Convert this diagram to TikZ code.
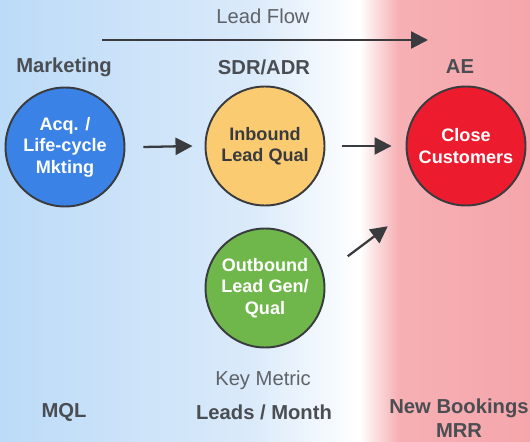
\documentclass[tikz,border=0pt]{standalone}
\usepackage{fontspec}
\setmainfont{Liberation Sans}
\usepackage{tikz}
\usetikzlibrary{arrows.meta,positioning}
\definecolor{ink}     {HTML}{3A3B3E}
\definecolor{txtgray} {HTML}{4A4D52}
\definecolor{capgray} {HTML}{5F6266}
\definecolor{bgblue}  {HTML}{BCDBF8}
\definecolor{bgblueb} {HTML}{DAEAFA}
\definecolor{bgpink}  {HTML}{F6B0B4}
\definecolor{bgpinkb} {HTML}{F5A6AB}
\definecolor{mktblue} {HTML}{3A82E6}
\definecolor{sdryellow}{HTML}{FBCB72}
\definecolor{aered}   {HTML}{EC1C2E}
\definecolor{outgreen}{HTML}{6FB74A}
\tikzset{
  stagecirc/.style ={circle, draw=ink, line width=1.1pt,
                     minimum size=2.38cm, inner sep=0pt,
                     align=center, font=\fontsize{10.3}{12.2}\selectfont\bfseries},
  heading/.style   ={text=txtgray, align=center,
                     font=\fontsize{11.5}{13.5}\selectfont\bfseries},
  caption/.style   ={text=capgray, font=\fontsize{11.5}{13.5}\selectfont},
  flowarr/.style   ={-{Triangle[length=3.4mm,width=3.4mm]}, line width=1.3pt, draw=ink},
}

\begin{document}
\begin{tikzpicture}[x=0.02cm,y=-0.02cm]
    \useasboundingbox (0,0) rectangle (530,442);
    % background
    \shade[left color=bgblue, right color=bgblueb] (0,0) rectangle (250,442);
    \shade[left color=bgblueb, right color=white] (250,0) rectangle (360,442);
    \shade[left color=white, right color=bgpink] (360,0) rectangle (398,442);
    \shade[left color=bgpink, right color=bgpinkb] (398,0) rectangle (530,442);

    \node[caption] (flow) at (263,16) {Lead Flow};
    \coordinate (flowstart) at (102,40);
    \coordinate (flowend) at (428,40);

    \node[heading] (mkthead) at (64,67) {Marketing};
    \node[heading] (sdrhead) at (264,67) {SDR/ADR};
    \node[heading] (aehead) at (460,67) {AE};

    \node[stagecirc,fill=mktblue,text=white] (mkt) at (65,147) {Acq. /\\Life-cycle\\Mkting};
    \node[stagecirc,fill=sdryellow,text=ink] (inb) at (265,146) {Inbound\\Lead Qual};
    \node[stagecirc,fill=aered,text=white] (close) at (466,146) {Close\\Customers};
    \node[stagecirc,fill=outgreen,text=white] (outb) at (265,288) {Outbound\\Lead Gen/\\Qual};

    \draw[flowarr] (flowstart) -- (flowend);
    \draw[flowarr] ([shift={(18,0)}]mkt.east) -- ([shift={(-12,0)}]inb.west);
    \draw[flowarr] ([shift={(17,0)}]inb.east) -- ([shift={(-14,0)}]close.west);
    \draw[flowarr] ([shift={(40,11)}]outb.north east) -- ([shift={(80,-19)}]outb.north east);

    \node[caption] (metric) at (263,380) {Key Metric};
    \node[heading] (mql) at (64,412) {MQL};
    \node[heading] (leads) at (264,412) {Leads / Month};
    \node[heading] (mrr) at (459,418) {New Bookings\\MRR};
\end{tikzpicture}
\end{document}
